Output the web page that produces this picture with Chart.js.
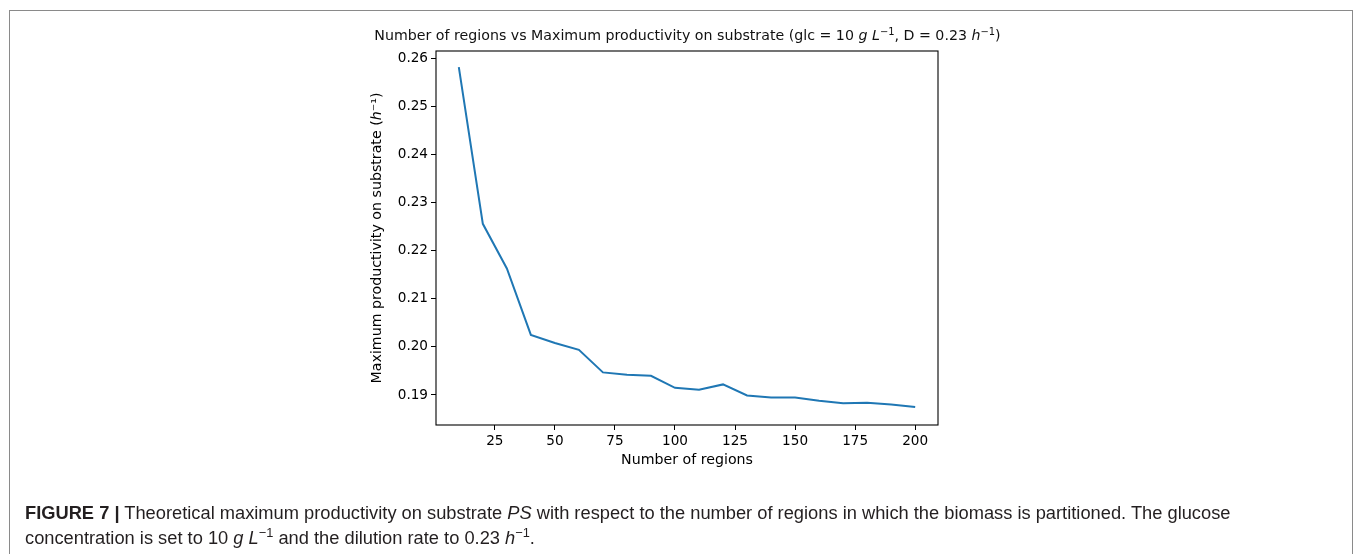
<!DOCTYPE html>
<html>
<head>
<meta charset="utf-8">
<script src="https://cdn.jsdelivr.net/npm/chart.js@4.4.1/dist/chart.umd.min.js"></script>
<style>
  html, body { margin: 0; padding: 0; background: #fff; }
  body { width: 1355px; height: 554px; position: relative; overflow: hidden; }
  #frame { position: absolute; left: 9px; top: 10px; width: 1344px; height: 600px;
           border: 1px solid #8a8a8a; box-sizing: border-box; }
  #chart { position: absolute; left: 0; top: 0; }
  #title { position: absolute; left: 0; width: 1375px; top: 27px; text-align: center;
           font-family: "DejaVu Sans"; font-size: 14.2px; color: #111; white-space: nowrap; }
  #title sup, #caption sup { font-size: 0.7em; line-height: 0; vertical-align: 0.55em; }
  #caption { position: absolute; left: 25px; top: 500px; font-family: "Liberation Sans";
             font-size: 18.3px; line-height: 25px; color: #231f20; white-space: nowrap; }
</style>
</head>
<body>
<div id="frame"></div>
<canvas id="chart" width="1355" height="554"></canvas>
<div id="title">Number of regions vs Maximum productivity on substrate (glc = 10 <i>g</i> <i>L</i><sup>−1</sup>, D = 0.23 <i>h</i><sup>−1</sup>)</div>
<div id="caption"><b>FIGURE 7 |</b> Theoretical maximum productivity on substrate <i>PS</i> with respect to the number of regions in which the biomass is partitioned. The glucose<br>concentration is set to 10 <i>g L</i><sup>−1</sup> and the dilution rate to 0.23 <i>h</i><sup>−1</sup>.</div>
<script>
// valeurs
const nRegions = [10, 20, 30, 40, 50, 60, 70, 80, 90, 100, 110, 120, 130, 140, 150, 160, 170, 180, 190, 200];
const productivity = [0.2582, 0.2256, 0.2163, 0.2025, 0.2008, 0.1994, 0.1947, 0.1942, 0.1940, 0.1915,
                      0.1911, 0.1922, 0.1899, 0.1895, 0.1895, 0.1888, 0.1883, 0.1884, 0.1880, 0.1875];
const xTicks = [25, 50, 75, 100, 125, 150, 175, 200];
const yTicks = [0.19, 0.20, 0.21, 0.22, 0.23, 0.24, 0.25, 0.26];

const tickFont = { family: "DejaVu Sans", size: 13.6 };
const labelFont = { family: "DejaVu Sans", size: 14.2 };

// cadre complet autour de la zone de tracé
const frameBox = {
    id: "frameBox",
    afterDraw(chart) {
        const a = chart.chartArea;
        const ctx = chart.ctx;
        ctx.save();
        ctx.strokeStyle = "#000";
        ctx.lineWidth = 1.1;
        ctx.strokeRect(a.left, a.top, a.right - a.left, a.bottom - a.top);
        ctx.restore();
    }
};

const points = nRegions.map((n, i) => ({ x: n, y: productivity[i] }));

new Chart(document.getElementById("chart"), {
    type: "line",
    data: {
        datasets: [{
            data: points,
            borderColor: "#1f77b4",
            borderWidth: 2,
            pointRadius: 0,
            tension: 0,
            fill: false
        }]
    },
    options: {
        responsive: false,
        animation: false,
        devicePixelRatio: 1,
        layout: { padding: { left: 356, top: 51, right: 417, bottom: 79 } },
        plugins: { legend: { display: false }, tooltip: { enabled: false } },
        scales: {
            x: {
                type: "linear",
                min: 0.5,
                max: 209.5,
                afterBuildTicks: s => { s.ticks = xTicks.map(v => ({ value: v })); },
                afterFit: s => { s.height = 50; },
                ticks: { font: tickFont, color: "#000", padding: 3, maxRotation: 0, autoSkip: false },
                grid: { drawOnChartArea: false, tickLength: 5, color: "#000", lineWidth: 1 },
                border: { display: false },
                title: { display: true, text: "Number of regions", font: labelFont, color: "#000",
                         padding: { top: 0, bottom: 6.5 } }
            },
            y: {
                min: 0.18376,
                max: 0.26154,
                afterBuildTicks: s => { s.ticks = yTicks.map(v => ({ value: v })); },
                afterFit: s => { s.width = 80; },
                ticks: { font: tickFont, color: "#000", padding: 3, autoSkip: false,
                         callback: v => v.toFixed(2) },
                grid: { drawOnChartArea: false, tickLength: 5, color: "#000", lineWidth: 1 },
                border: { display: false },
                title: { display: true, text: "Maximum productivity on substrate (ℎ⁻¹)", font: labelFont,
                         color: "#000", padding: { top: 12.5, bottom: 0 } }
            }
        }
    },
    plugins: [frameBox]
});
</script>
</body>
</html>
